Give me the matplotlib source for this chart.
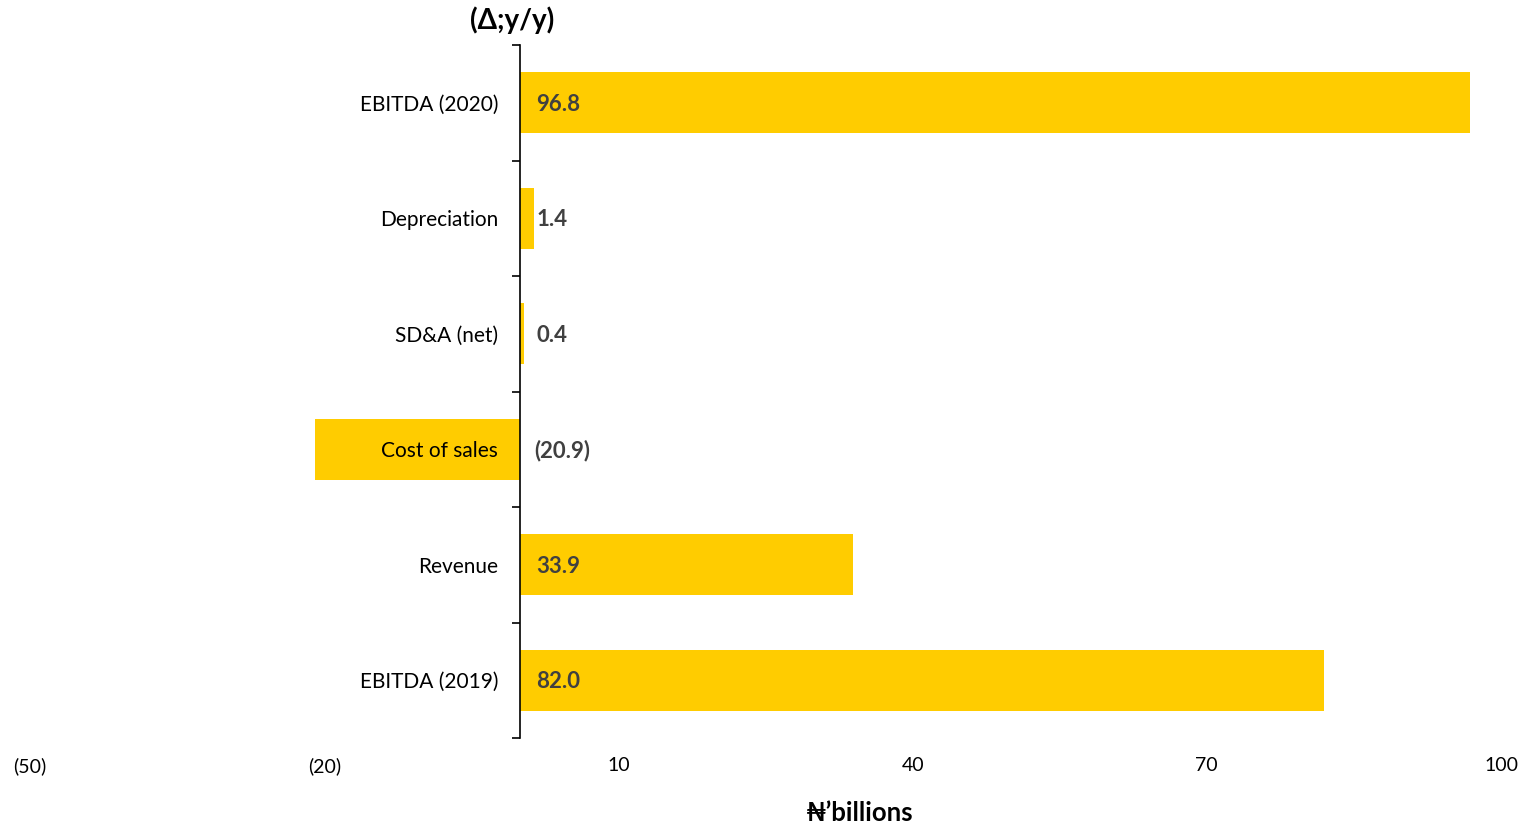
import matplotlib
matplotlib.use('Agg')
import matplotlib.pyplot as plt
import numpy as np

plt.rcParams['font.family'] = ['Lato', 'DejaVu Sans']

# data (bottom to top)
categories = ["EBITDA (2019)", "Revenue", "Cost of sales", "SD&A (net)", "Depreciation", "EBITDA (2020)"]
values = [82.0, 33.9, -20.9, 0.4, 1.4, 96.8]
xticks = [-50, -20, 10, 40, 70, 100]
xtick_labels = ["(50)", "(20)", "10", "40", "70", "100"]

BAR = "#FFCC00"
TXT = "#404040"

fig = plt.figure(figsize=(15.28, 8.25), dpi=100)
ax = fig.add_axes([30 / 1528, 1 - 738 / 825, 1471 / 1528, 693 / 825])

# spine first: moving it resets the ticks
for s in ["top", "right", "bottom"]:
    ax.spines[s].set_visible(False)
ax.spines["left"].set_position(("data", 0))
ax.spines["left"].set_linewidth(1.2)
ax.spines["left"].set_zorder(4)
ax.set_axisbelow(False)

y = np.arange(len(categories))
ax.barh(y, values, height=0.53, color=BAR, zorder=2)

for yi, v in zip(y, values):
    lab = f"({abs(v):.1f})" if v < 0 else f"{v:.1f}"
    ax.annotate(lab, (0, yi), xytext=(11.5 if v >= 0 else 10, -1), textcoords="offset points",
                ha="left", va="center", fontsize=16, fontweight="bold", color=TXT, zorder=3)

ax.set_xlim(-50, 100)
ax.set_ylim(-0.5, len(categories) - 0.5)

ax.set_xticks(xticks)
ax.set_xticklabels(xtick_labels, fontsize=14)
ax.tick_params(axis="x", length=0, pad=14)

ax.set_yticks(np.arange(-0.5, len(categories), 1), minor=True)
ax.set_yticks(y)
ax.set_yticklabels(categories, fontsize=15)
ax.tick_params(axis="y", which="major", length=0, pad=16)
ax.tick_params(axis="y", which="minor", length=6, width=1.2, direction="out")

fig.text(512 / 1528, 1 - 20 / 825, "(Δ;y/y)", ha="center", va="center",
         fontsize=20, fontweight="bold")
fig.text(860 / 1528, 1 - 813 / 825, "₦’billions", ha="center", va="center",
         fontsize=18.5, fontweight="bold")

fig.savefig("out.png", dpi=100, facecolor="white")
